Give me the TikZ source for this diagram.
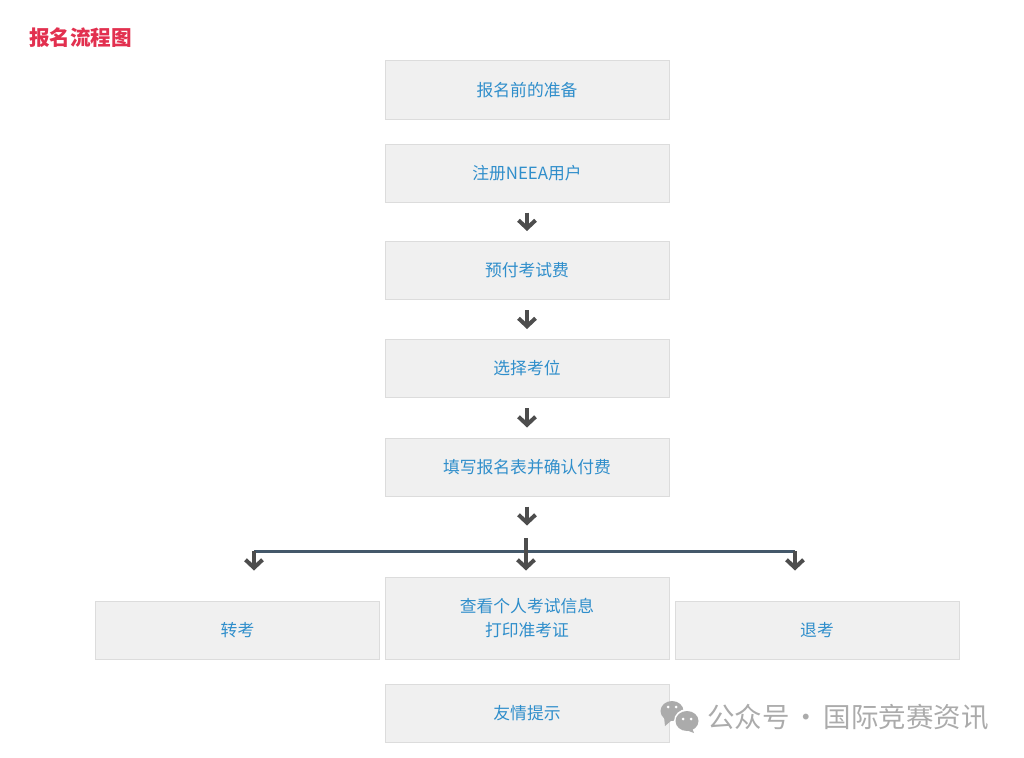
\documentclass[tikz,border=0pt]{standalone}
\usepackage{fontspec}
\setmainfont{Noto Sans CJK SC}
\usetikzlibrary{arrows.meta}
\definecolor{boxfill}{HTML}{F0F0F0}
\definecolor{boxline}{HTML}{DCDCDC}
\definecolor{boxtext}{HTML}{2F8ECB}
\definecolor{titlered}{HTML}{E2304F}
\definecolor{arrowgray}{HTML}{4D4D4D}
\definecolor{barblue}{HTML}{44586A}
\definecolor{markgray}{HTML}{ABABAB}
\tikzset{
  stepbox/.style={draw=boxline,fill=boxfill,text=boxtext,line width=1pt,minimum width=284pt,minimum height=58pt,align=center,font=\fontsize{16.8}{24}\selectfont},
  downarrow/.style={arrowgray,line width=4pt,-{Straight Barb[length=8pt,width=17pt,line width=4pt]}},
  barline/.style={barblue,line width=3pt},
}
\begin{document}
\begin{tikzpicture}[x=1pt,y=-1pt]
\useasboundingbox (0,0) rectangle (1024,757);
\node[font=\fontsize{20.6}{24}\selectfont\bfseries,text=titlered] (title) at (80.5,38) {报名流程图};
\node[stepbox] (prepare) at (527,90) {报名前的准备};
\node[stepbox] (register) at (527,173) {注册NEEA用户};
\node[stepbox] (prepay) at (527,270.5) {预付考试费};
\node[stepbox] (seat) at (527,368.5) {选择考位};
\node[stepbox] (form) at (527,467) {填写报名表并确认付费};
\node[stepbox,minimum height=82pt] (admit) at (527,618) {查看个人考试信息\\打印准考证};
\node[stepbox] (transfer) at (237.5,630) {转考};
\node[stepbox] (withdraw) at (817,630) {退考};
\node[stepbox] (notice) at (527,713) {友情提示};
\coordinate (hub) at (526,538);
\coordinate (barL) at (254,551);
\coordinate (barR) at (795,551);
\draw[downarrow,shorten <=10pt,shorten >=10pt] (register)--(prepay);
\draw[downarrow,shorten <=10pt,shorten >=10pt] (prepay)--(seat);
\draw[downarrow,shorten <=10pt,shorten >=10pt] (seat)--(form);
\draw[downarrow,shorten <=10pt] (form.south)--++(0,29);
\draw[barline] (barL)--(barR);
\draw[downarrow,shorten >=30pt] (barL)--(barL |- transfer.north);
\draw[downarrow,shorten >=30pt] (barR)--(barR |- withdraw.north);
\draw[downarrow,shorten >=6pt] (hub)--(hub |- admit.north);
\fill[markgray] (672,711) ellipse [x radius=11.5,y radius=10];
\fill[markgray] (664,717)--(665,726)--(672,720)--cycle;
\fill[white] (687,721) ellipse [x radius=13,y radius=12];
\fill[markgray] (687,721) ellipse [x radius=11.5,y radius=10];
\fill[markgray] (692,728)--(694,733)--(686,730)--cycle;
\fill[white] (668,707) circle [radius=1.5] (676,707) circle [radius=1.5] (683,719) circle [radius=1.5] (691,719) circle [radius=1.5];
\node[font=\fontsize{27.5}{30}\selectfont,text=markgray,anchor=west,inner sep=0pt] (mark) at (707,717) {公众号\hspace{-3pt} · \hspace{-3pt}国际竞赛资讯};
\end{tikzpicture}
\end{document}
